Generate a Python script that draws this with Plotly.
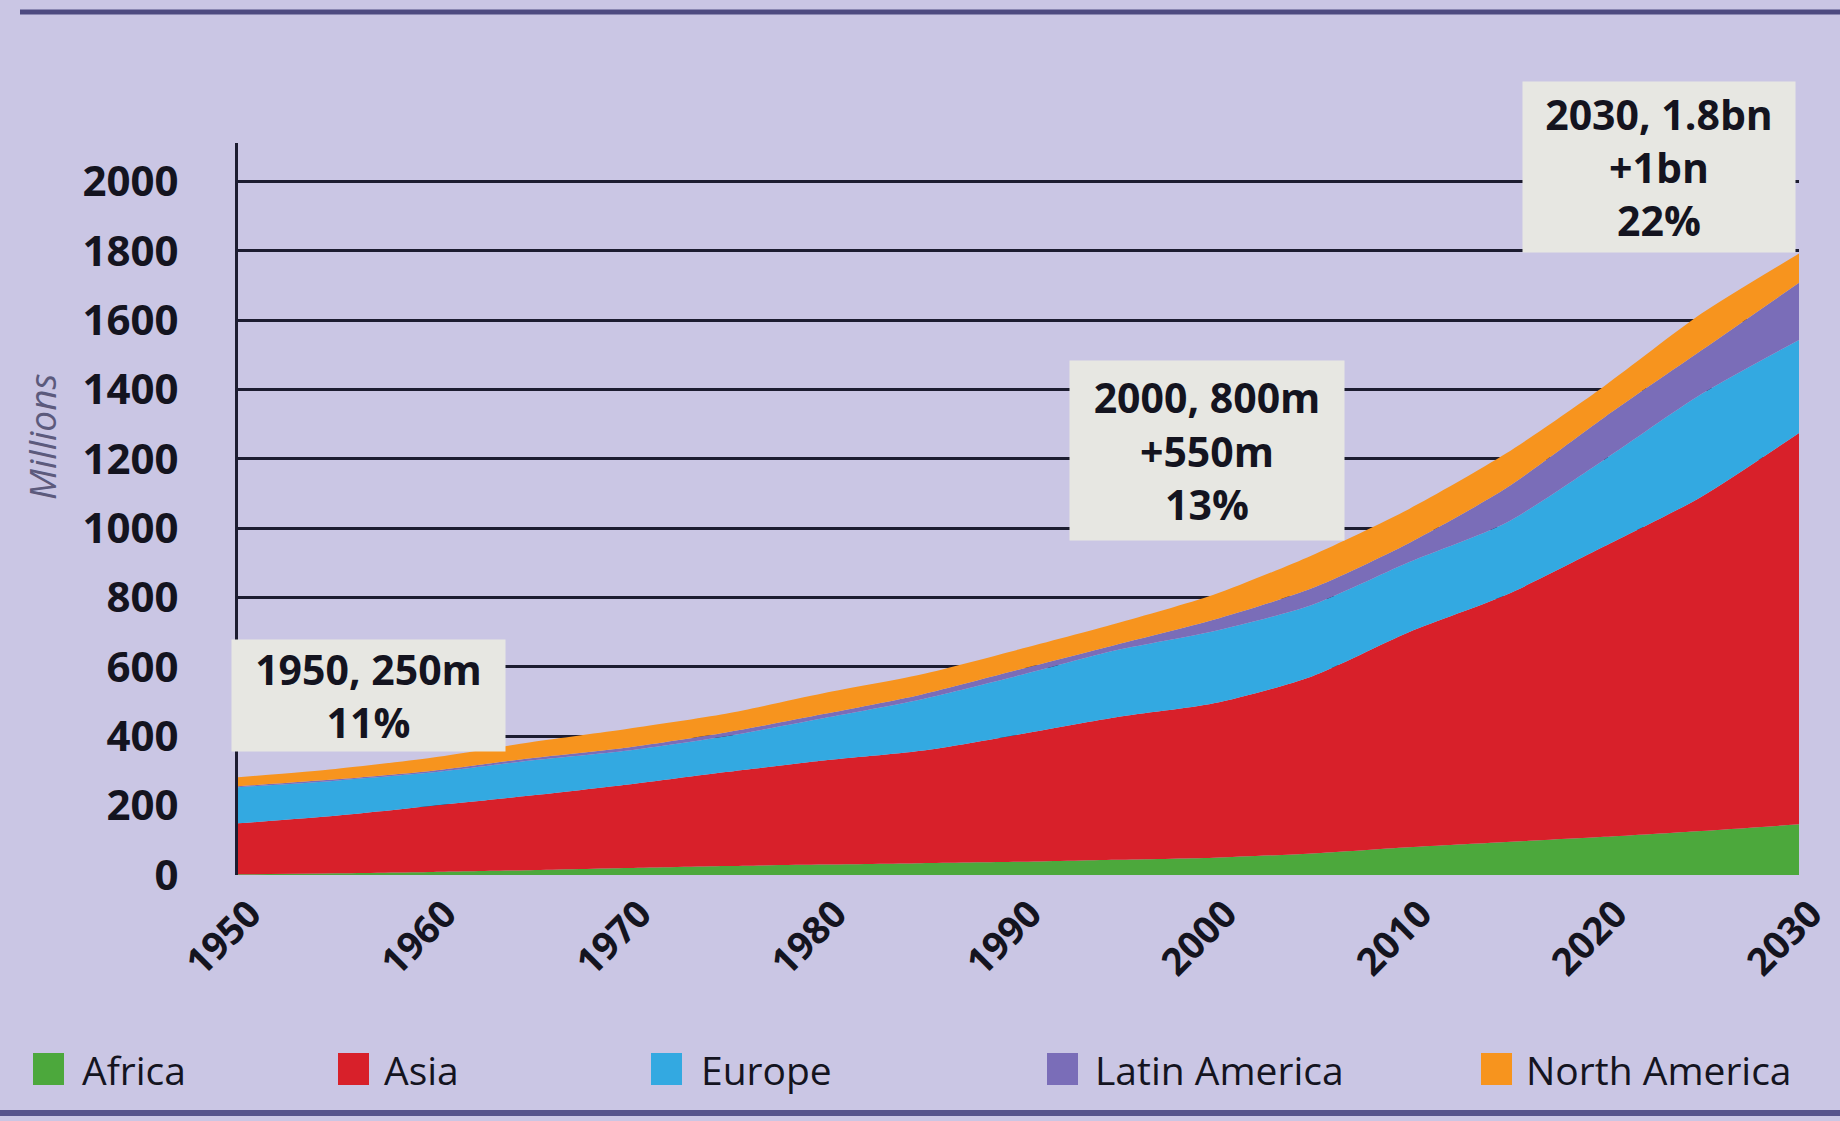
import plotly.graph_objects as go

# ---------------- data (millions) ----------------
years = [1950, 1955, 1960, 1965, 1970, 1975, 1980, 1985, 1990, 1995,
         2000, 2005, 2010, 2015, 2020, 2025, 2030]
africa = [2, 5, 9, 14, 20, 26, 30, 34, 38, 44, 50, 62, 80, 95, 110, 127, 146]
asia = [147, 166, 191, 215, 241, 271, 300, 324, 367, 411, 445, 510, 620, 713, 837, 964, 1129]
europe = [104, 101, 96, 101, 98, 103, 122, 148, 170, 193, 208, 206, 202, 208, 250, 296, 268]
latin_america = [3, 4, 5, 7, 9, 11, 12, 14, 17, 16, 33, 48, 55, 100, 122, 126, 165]
north_america = [26, 30, 38, 46, 54, 54, 60, 58, 58, 61, 72, 95, 98, 100, 90, 106, 84]

series_names = ["Africa", "Asia", "Europe", "Latin America", "North America"]
series_values = [africa, asia, europe, latin_america, north_america]
colors = ["#4ca83c", "#d8202a", "#33a9e1", "#7a6db8", "#f7941e"]

y_ticks = [0, 200, 400, 600, 800, 1000, 1200, 1400, 1600, 1800, 2000]
x_ticks = [1950, 1960, 1970, 1980, 1990, 2000, 2010, 2020, 2030]

callout_texts = ["1950, 250m<br>11%",
                 "2000, 800m<br>+550m<br>13%",
                 "2030, 1.8bn<br>+1bn<br>22%"]

# ---------------- layout geometry (pixels) ----------------
W, H = 1840, 1121
L, R, T, B = 238, 41, 143, 246
PW = W - L - R
PH = H - T - B
BG = "#cac6e4"
INK = "#14141f"
GRID = "#1c1c30"
FONT = "Open Sans"


def px(x):
    return (x - L) / PW


def py(y):
    return (H - B - y) / PH


fig = go.Figure()
for name, vals, col in zip(series_names, series_values, colors):
    fig.add_trace(go.Scatter(
        x=years, y=vals, name=name, stackgroup="one", mode="lines",
        fillcolor=col, line=dict(width=0, color=col, shape="spline", smoothing=0.7),
        showlegend=False))

fig.update_layout(
    width=W, height=H, autosize=False,
    paper_bgcolor=BG, plot_bgcolor=BG,
    margin=dict(l=L, r=R, t=T, b=B, pad=0, autoexpand=False),
    showlegend=False,
    xaxis=dict(range=[1950, 2030], tickvals=x_ticks, tickangle=-45,
               showgrid=False, showline=False, zeroline=False, ticks="",
               tickfont=dict(family=FONT, size=38, color=INK, weight="bold"),
               ticklabelstandoff=8, ticklabelshift=12,
               ticklabeloverflow="allow", automargin=False, fixedrange=True),
    yaxis=dict(range=[0, 2111], tickvals=y_ticks,
               showgrid=True, gridcolor=GRID, gridwidth=3,
               showline=True, linecolor=GRID, linewidth=3,
               zeroline=True, zerolinecolor=BG, zerolinewidth=1, ticks="",
               tickfont=dict(family=FONT, size=42, color=INK, weight="bold"),
               ticklabelstandoff=48, automargin=False, fixedrange=True),
)

shapes = []
annotations = []

# decorative rules top & bottom
shapes.append(dict(type="line", xref="paper", yref="paper",
                   x0=px(20), x1=px(1840), y0=py(12), y1=py(12),
                   line=dict(color="#4d4a80", width=5), layer="above"))
shapes.append(dict(type="line", xref="paper", yref="paper",
                   x0=px(0), x1=px(1840), y0=py(1113), y1=py(1113),
                   line=dict(color="#57548c", width=6), layer="above"))

# call-out boxes (pixel boxes: left, top, width, height)
callout_boxes = [(232, 640, 273, 111), (1070, 361, 274, 179), (1523, 82, 272, 170)]
for txt, (bx, by, bw, bh) in zip(callout_texts, callout_boxes):
    annotations.append(dict(
        text=txt, xref="paper", yref="paper",
        x=px(bx + bw / 2), y=py(by + bh / 2), xanchor="center", yanchor="middle",
        width=bw, height=bh, bgcolor="#e7e7e2", borderpad=0, showarrow=False,
        align="center", valign="middle",
        font=dict(family=FONT, size=41, color=INK, weight="bold")))

# y-axis title
annotations.append(dict(
    text="<i>Millions</i>", xref="paper", yref="paper",
    x=px(41), y=py(437), xanchor="center", yanchor="middle",
    textangle=-90, showarrow=False,
    font=dict(family=FONT, size=37, color="#5c5a7c")))

# legend (squares + labels)
legend_box_x = [33, 338, 651, 1047, 1481]
legend_text_x = [80, 382, 699, 1093, 1524]
for name, col, bx, tx in zip(series_names, colors, legend_box_x, legend_text_x):
    shapes.append(dict(type="rect", xref="paper", yref="paper",
                       x0=px(bx), x1=px(bx + 31), y0=py(1085), y1=py(1053),
                       fillcolor=col, line=dict(width=0), layer="above"))
    annotations.append(dict(
        text=name, xref="paper", yref="paper",
        x=px(tx), y=py(1069), xanchor="left", yanchor="middle",
        showarrow=False,
        font=dict(family=FONT, size=39, color=INK)))

fig.update_layout(shapes=shapes, annotations=annotations)

fig.write_html("out.html")
